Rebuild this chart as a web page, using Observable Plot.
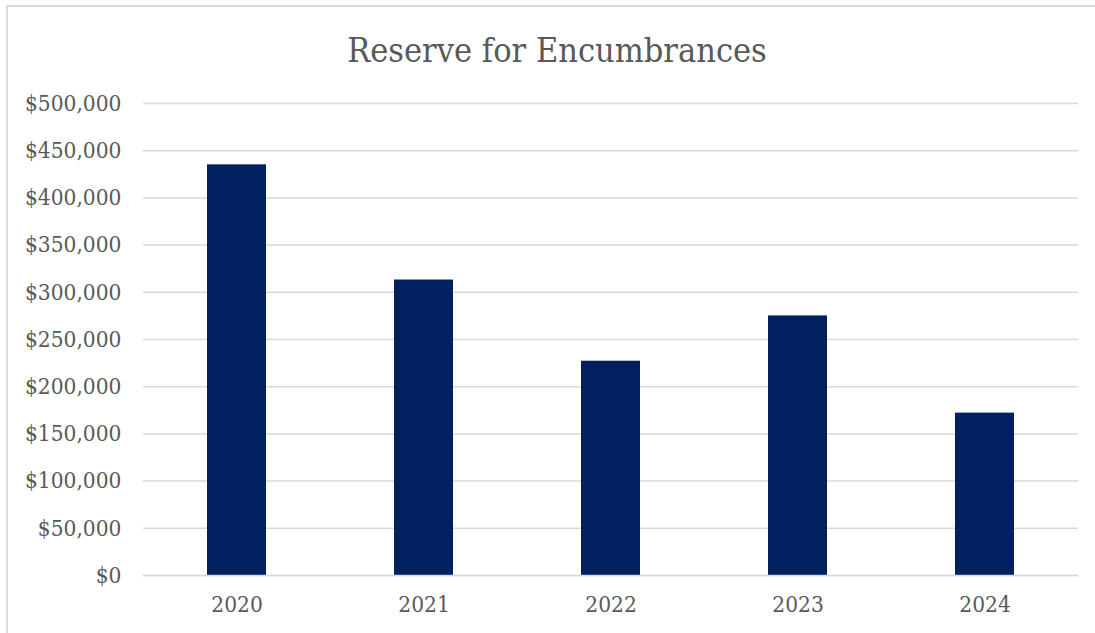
<!DOCTYPE html>
<html>
<head>
<meta charset="utf-8">
<script src="https://cdn.jsdelivr.net/npm/d3@7"></script>
<script src="https://cdn.jsdelivr.net/npm/@observablehq/plot@0.6"></script>
<style>
  html, body { margin: 0; padding: 0; background: #fff; overflow: hidden; }
  #wrap { position: relative; width: 1095px; height: 633px; overflow: hidden; background: #fff; }
  #frame { position: absolute; left: 6px; top: 5px; width: 1300px; height: 800px;
           border-left: 2px solid #d9d9d9; border-top: 2px solid #d9d9d9; box-sizing: border-box; }
  #title { position: absolute; left: 0; top: 33px; width: 1114px; text-align: center; line-height: 1;
           font-family: "DejaVu Serif Condensed", "DejaVu Serif", serif; font-stretch: condensed;
           font-size: 34px; color: #595959; white-space: nowrap; }
  #chart { position: absolute; left: 0; top: 0; }
</style>
</head>
<body>
<div id="wrap">
  <div id="frame"></div>
  <div id="title">Reserve for Encumbrances</div>
  <div id="chart"></div>
</div>
<script>
const years = ["2020", "2021", "2022", "2023", "2024"];
const values = [435000, 313000, 227000, 275000, 172000];
const yTicks = [0, 50000, 100000, 150000, 200000, 250000, 300000, 350000, 400000, 450000, 500000];

const data = years.map((y, i) => ({year: y, value: values[i]}));

const chart = Plot.plot({
  width: 1095,
  height: 633,
  marginTop: 103,
  marginBottom: 58,
  marginLeft: 143,
  marginRight: 17,
  style: { fontFamily: "'DejaVu Serif Condensed', 'DejaVu Serif', serif", fontStretch: "condensed", fontSize: "22.5px", color: "#595959", background: "transparent" },
  x: { domain: years, paddingInner: 0.684, paddingOuter: 0.342, label: null },
  y: { domain: [0, 500000], label: null },
  marks: [
    Plot.gridY(yTicks, { stroke: "#d9d9d9", strokeOpacity: 1, strokeWidth: 1.5 }),
    Plot.barY(data, { x: "year", y: "value", fill: "#002060" }),
    Plot.ruleY([0], { stroke: "#d9d9d9", strokeWidth: 1.5 }),
    Plot.axisY(yTicks, { tickSize: 0, tickPadding: 22, tickFormat: d3.format("$,"), label: null, fill: "#595959" }),
    Plot.axisX({ tickSize: 0, tickPadding: 21, label: null, fill: "#595959" })
  ]
});
document.getElementById("chart").appendChild(chart);
</script>
</body>
</html>
